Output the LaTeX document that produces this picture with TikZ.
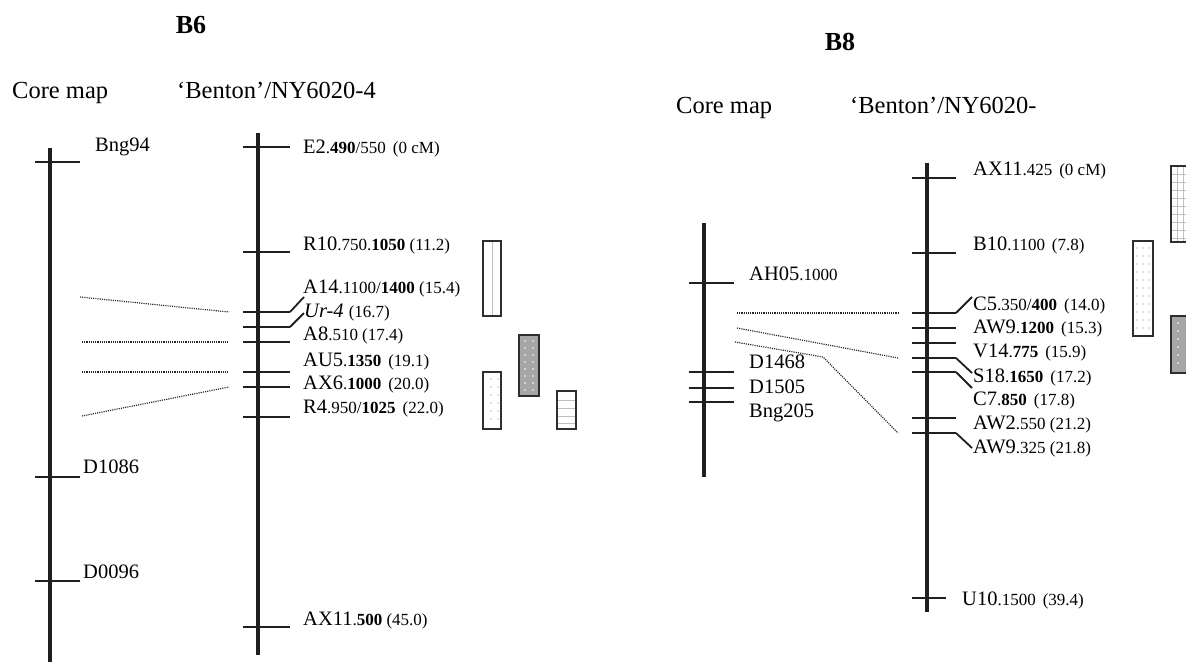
\documentclass[tikz,border=0pt]{standalone}
\usepackage{fontspec}
\setmainfont{Liberation Serif}
\newcommand\mainf{\fontsize{20.5}{22}\selectfont}
\newcommand\headf{\fontsize{24.5}{26}\selectfont}
\newcommand\ttlf{\fontsize{26}{28}\selectfont\bfseries}
\newcommand\sm[1]{{\fontsize{17}{19}\selectfont #1}}
\tikzset{
  chrom/.style={line width=3.6pt, draw=black!88},
  tk/.style={line width=1.8pt, draw=black!88},
  dotline/.style={line width=1.2pt, draw=black!85, dash pattern=on 1.1pt off 1.1pt},
  lbl/.style={anchor=base west, inner sep=0pt, font=\mainf},
  hd/.style={anchor=base west, inner sep=0pt, font=\headf},
  ttl/.style={anchor=center, inner sep=0pt, font=\ttlf},
  boxline/.style={line width=2.6pt, draw=black!82},
  pline/.style={line width=0.9pt, draw=black!25},
}
\begin{document}
\begin{tikzpicture}[x=1pt,y=-1pt]
\useasboundingbox (0,0) rectangle (1186,662);

% ---------------- B6 ----------------
\node[ttl] (t6) at (191,25) {B6};
\node[hd] (c6) at (12,98) {Core map};
\node[hd] (bn6) at (177,98) {`Benton'/NY6020-4};

\coordinate (c6top) at (50,148);
\coordinate (c6bot) at (50,662);
\draw[chrom] (c6top) -- (c6bot);
\coordinate (b6top) at (258,133);
\coordinate (b6bot) at (258,655);
\draw[chrom] (b6top) -- (b6bot);

\foreach \n/\y in {bng94/162, d1086/477, d0096/581}{
  \coordinate (\n-l) at (35,\y); \coordinate (\n-r) at (80,\y);
  \draw[tk] (\n-l) -- (\n-r);
}
\node[lbl] (lbng94) at (95,151) {Bng94};
\node[lbl] (ld1086) at (83,473) {D1086};
\node[lbl] (ld0096) at (83,578) {D0096};

\foreach \n/\y in {e2/147, r10/252, a14/312, ur4/327, a8/342, au5/372, ax6/387, r4/417, ax11/627}{
  \coordinate (\n-l) at (243,\y); \coordinate (\n-r) at (290,\y);
  \draw[tk] (\n-l) -- (\n-r);
}
\coordinate (a14end) at (304,297);
\coordinate (ur4end) at (304,313);
\draw[tk] (a14-r) -- (a14end);
\draw[tk] (ur4-r) -- (ur4end);

\node[lbl] (le2) at (303,153) {E2\sm{.\textbf{490}/550\hspace{7pt}(0 cM)}};
\node[lbl] (lr10) at (303,250) {R10\sm{.750.\textbf{1050} (11.2)}};
\node[lbl] (la14) at (303,293) {A14\sm{.1100/\textbf{1400} (15.4)}};
\node[lbl] (lur4) at (304,317) {\textit{Ur-4} \sm{(16.7)}};
\node[lbl] (la8) at (303,340) {A8\sm{.510 (17.4)}};
\node[lbl] (lau5) at (303,366) {AU5\sm{.\textbf{1350}\hspace{7pt}(19.1)}};
\node[lbl] (lax6) at (303,389) {AX6\sm{.\textbf{1000}\hspace{7pt}(20.0)}};
\node[lbl] (lr4) at (303,413) {R4\sm{.950/\textbf{1025}\hspace{7pt}(22.0)}};
\node[lbl] (lax11) at (303,625) {AX11\sm{.\textbf{500} (45.0)}};

% dotted links B6
\coordinate (d1a) at (80,297);  \coordinate (d1b) at (229,312);
\coordinate (d2a) at (82,342);  \coordinate (d2b) at (229,342);
\coordinate (d3a) at (82,372);  \coordinate (d3b) at (229,372);
\coordinate (d4a) at (82,416);  \coordinate (d4b) at (229,387);
\draw[dotline] (d1a) -- (d1b);
\draw[dotline] (d2a) -- (d2b);
\draw[dotline] (d3a) -- (d3b);
\draw[dotline] (d4a) -- (d4b);

% boxes B6
\fill[white] (483,241) rectangle (501,316);
\draw[pline] (492,242) -- (492,315);
\draw[boxline] (483,241) rectangle (501,316);

\fill[black!35] (519,335) rectangle (539,396);
\foreach \yy in {341,348,...,392}{
  \fill[white] (525,\yy) circle (0.9pt);
  \fill[white] (533,\yy) circle (0.9pt);
}
\draw[boxline] (519,335) rectangle (539,396);

\fill[white] (483,372) rectangle (501,429);
\foreach \yy in {379,387,...,425}{
  \fill[black!25] (491,\yy) circle (0.8pt);
  \fill[black!25] (498,\yy) circle (0.8pt);
}
\draw[boxline] (483,372) rectangle (501,429);

\fill[white] (557,391) rectangle (576,429);
\foreach \yy in {400,408,416,423}{
  \draw[pline] (558,\yy) -- (575,\yy);
}
\draw[boxline] (557,391) rectangle (576,429);

% ---------------- B8 ----------------
\node[ttl] (t8) at (840,42) {B8};
\node[hd] (c8) at (676,113) {Core map};
\node[hd] (bn8) at (850,113) {`Benton'/NY6020-};

\coordinate (c8top) at (704,223);
\coordinate (c8bot) at (704,477);
\draw[chrom] (c8top) -- (c8bot);
\coordinate (b8top) at (927,163);
\coordinate (b8bot) at (927,612);
\draw[chrom] (b8top) -- (b8bot);

\foreach \n/\y in {ah05/283, d1468/372, d1505/388, bng205/402}{
  \coordinate (\n-l) at (689,\y); \coordinate (\n-r) at (734,\y);
  \draw[tk] (\n-l) -- (\n-r);
}
\node[lbl] (lah05) at (749,280) {AH05\sm{.1000}};
\node[lbl] (ld1468) at (749,368) {D1468};
\node[lbl] (ld1505) at (749,393) {D1505};
\node[lbl] (lbng205) at (749,417) {Bng205};

\foreach \n/\y in {ax11b/178, b10/253, c5/313, aw9a/328, v14/343, s18/358, c7/372, aw2/418, aw9b/433}{
  \coordinate (\n-l) at (912,\y); \coordinate (\n-r) at (956,\y);
  \draw[tk] (\n-l) -- (\n-r);
}
\coordinate (u10-l) at (912,598); \coordinate (u10-r) at (946,598);
\draw[tk] (u10-l) -- (u10-r);

\coordinate (c5end) at (972,297);
\coordinate (s18end) at (972,373);
\coordinate (c7end) at (972,388);
\coordinate (aw9bend) at (972,448);
\draw[tk] (c5-r) -- (c5end);
\draw[tk] (s18-r) -- (s18end);
\draw[tk] (c7-r) -- (c7end);
\draw[tk] (aw9b-r) -- (aw9bend);

\node[lbl] (lax11b) at (973,175) {AX11\sm{.425\hspace{7pt}(0 cM)}};
\node[lbl] (lb10) at (973,250) {B10\sm{.1100\hspace{7pt}(7.8)}};
\node[lbl] (lc5) at (973,310) {C5\sm{.350/\textbf{400}\hspace{7pt}(14.0)}};
\node[lbl] (law9a) at (973,333) {AW9\sm{.\textbf{1200}\hspace{7pt}(15.3)}};
\node[lbl] (lv14) at (973,357) {V14\sm{.\textbf{775}\hspace{7pt}(15.9)}};
\node[lbl] (ls18) at (973,382) {S18\sm{.\textbf{1650}\hspace{7pt}(17.2)}};
\node[lbl] (lc7) at (973,405) {C7\sm{.\textbf{850}\hspace{7pt}(17.8)}};
\node[lbl] (law2) at (973,429) {AW2\sm{.550 (21.2)}};
\node[lbl] (law9b) at (973,453) {AW9\sm{.325 (21.8)}};
\node[lbl] (lu10) at (962,605) {U10\sm{.1500\hspace{7pt}(39.4)}};

% dotted links B8
\coordinate (e1a) at (737,313); \coordinate (e1b) at (898,313);
\coordinate (e2a) at (737,328); \coordinate (e2b) at (898,358);
\coordinate (e3a) at (735,342); \coordinate (e3m) at (823,357); \coordinate (e3b) at (898,433);
\draw[dotline] (e1a) -- (e1b);
\draw[dotline] (e2a) -- (e2b);
\draw[dotline] (e3a) -- (e3m) -- (e3b);

% boxes B8
\fill[white] (1171,166) rectangle (1200,242);
\foreach \xx in {1177,1183}{ \draw[pline] (\xx,167) -- (\xx,241); }
\foreach \yy in {174,182,...,238}{ \draw[pline] (1172,\yy) -- (1199,\yy); }
\draw[boxline] (1171,166) rectangle (1200,242);

\fill[white] (1133,241) rectangle (1153,336);
\foreach \yy in {248,256,...,332}{
  \fill[black!25] (1137,\yy) circle (0.8pt);
  \fill[black!25] (1143,\yy) circle (0.8pt);
  \fill[black!25] (1149,\yy) circle (0.8pt);
}
\draw[boxline] (1133,241) rectangle (1153,336);

\fill[black!35] (1171,316) rectangle (1200,373);
\foreach \yy in {323,331,...,369}{
  \fill[white] (1178,\yy) circle (0.9pt);
}
\draw[boxline] (1171,316) rectangle (1200,373);

\end{tikzpicture}
\end{document}
